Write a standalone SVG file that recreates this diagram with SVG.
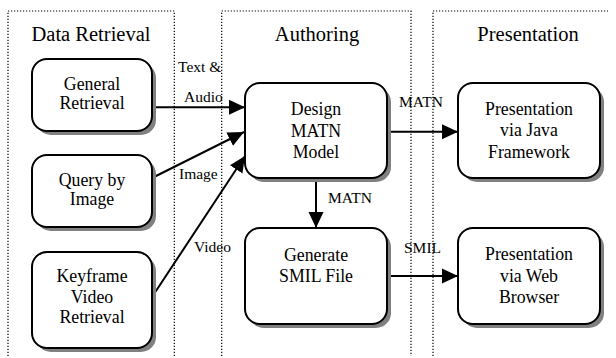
<svg xmlns="http://www.w3.org/2000/svg" width="616" height="358" viewBox="0 0 616 358">
<defs>
<marker id="ah" markerUnits="userSpaceOnUse" markerWidth="16" markerHeight="16" refX="16" refY="8" orient="auto" viewBox="0 0 16 16">
<path d="M0,0.5 L16,8 L0,15.5 z" fill="#000"/>
</marker>
</defs>
<style>
.panel{fill:none;stroke:#000;stroke-width:1.2;stroke-dasharray:1.2,1.8}
.title{font-family:"Liberation Serif",serif;font-size:20.5px;fill:#000;text-anchor:middle}
.sh{fill:#808080}
.box{fill:#fff;stroke:#000;stroke-width:2}
.nt{font-family:"Liberation Serif",serif;font-size:17.8px;fill:#000;text-anchor:middle}
.lbl{font-family:"Liberation Serif",serif;font-size:15.5px;fill:#000}
.edge{fill:none;stroke:#000;stroke-width:2;marker-end:url(#ah)}
</style>
<rect width="616" height="358" fill="#fff"/>
<g id="panels">
<path class="panel" d="M8,356 V11 H174.3 V356"/>
<path class="panel" d="M221.7,356 V11 H411 V356"/>
<path class="panel" d="M433,356 V11 H608"/>
<text class="title" x="91" y="41">Data Retrieval</text>
<text class="title" x="317" y="41">Authoring</text>
<text class="title" x="528" y="41">Presentation</text>
</g>
<g id="connectors">
<line class="edge" x1="152" y1="107.3" x2="245" y2="107.3"/>
<line class="edge" x1="152" y1="178" x2="244" y2="132"/>
<line class="edge" x1="152" y1="297" x2="245" y2="156"/>
<line class="edge" x1="316" y1="178" x2="316" y2="228"/>
<line class="edge" x1="387" y1="131.7" x2="458" y2="131.7"/>
<line class="edge" x1="387" y1="276" x2="458" y2="276"/>
<text class="lbl" x="178" y="72">Text &amp;</text>
<text class="lbl" x="184" y="102">Audio</text>
<text class="lbl" x="179" y="178.5">Image</text>
<text class="lbl" x="194" y="251.7">Video</text>
<text class="lbl" x="399" y="106.7">MATN</text>
<text class="lbl" x="328" y="203">MATN</text>
<text class="lbl" x="404" y="253">SMIL</text>
</g>
<g id="general">
<rect class="sh" x="36" y="63" width="120" height="72" rx="15"/>
<rect class="box" x="32" y="59" width="120" height="72" rx="15"/>
<text class="nt" x="92" y="90.3">General</text>
<text class="nt" x="92" y="109">Retrieval</text>
</g>
<g id="query">
<rect class="sh" x="36" y="159" width="120" height="72" rx="15"/>
<rect class="box" x="32" y="155" width="120" height="72" rx="15"/>
<text class="nt" x="92" y="186">Query by</text>
<text class="nt" x="92" y="205">Image</text>
</g>
<g id="keyframe">
<rect class="sh" x="36" y="256" width="120" height="96" rx="15"/>
<rect class="box" x="32" y="252" width="120" height="96" rx="15"/>
<text class="nt" x="92" y="282">Keyframe</text>
<text class="nt" x="92" y="302.5">Video</text>
<text class="nt" x="92" y="323">Retrieval</text>
</g>
<g id="design">
<rect class="sh" x="249" y="87" width="142" height="95" rx="15"/>
<rect class="box" x="245" y="83" width="142" height="95" rx="15"/>
<text class="nt" x="316" y="115">Design</text>
<text class="nt" x="316" y="137">MATN</text>
<text class="nt" x="316" y="158">Model</text>
</g>
<g id="generate">
<rect class="sh" x="249" y="232" width="142" height="96" rx="15"/>
<rect class="box" x="245" y="228" width="142" height="96" rx="15"/>
<text class="nt" x="316" y="261">Generate</text>
<text class="nt" x="316" y="282">SMIL File</text>
</g>
<g id="java">
<rect class="sh" x="462" y="87" width="142" height="95" rx="15"/>
<rect class="box" x="458" y="83" width="142" height="95" rx="15"/>
<text class="nt" x="529" y="115">Presentation</text>
<text class="nt" x="529" y="136">via Java</text>
<text class="nt" x="529" y="158">Framework</text>
</g>
<g id="web">
<rect class="sh" x="462" y="232" width="142" height="96" rx="15"/>
<rect class="box" x="458" y="228" width="142" height="96" rx="15"/>
<text class="nt" x="529" y="260">Presentation</text>
<text class="nt" x="529" y="282">via Web</text>
<text class="nt" x="529" y="303">Browser</text>
</g>
</svg>
